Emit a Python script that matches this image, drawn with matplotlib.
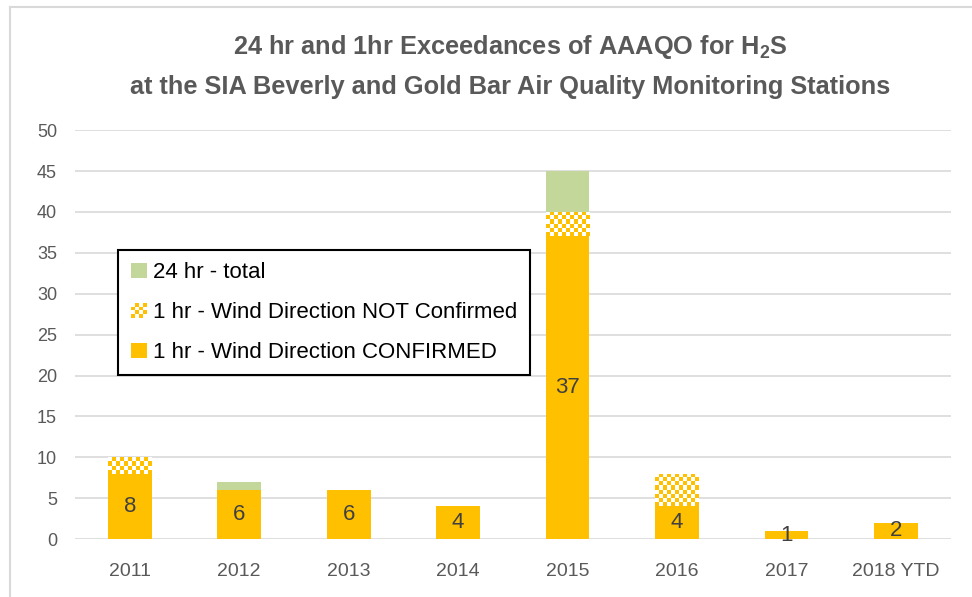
import numpy as np
import matplotlib.pyplot as plt
from matplotlib.patches import Rectangle
from matplotlib.legend_handler import HandlerBase
from matplotlib.lines import Line2D

# Дані з графіка
years = ['2011', '2012', '2013', '2014', '2015', '2016', '2017', '2018 YTD']
confirmed = [8, 6, 6, 4, 37, 4, 1, 2]
not_confirmed = [2, 0, 0, 0, 3, 4, 0, 0]
total_24hr = [0, 1, 0, 0, 5, 0, 0, 0]

orange = '#FFC000'
green = '#C4D79B'
grey = '#595959'

plt.rcParams['font.family'] = ['Liberation Sans', 'DejaVu Sans']


def checker(n_rows, n_cols):
    img = np.ones((n_rows, n_cols, 3))
    yy, xx = np.indices((n_rows, n_cols))
    mask = (yy + xx) % 2 == 0
    img[mask] = [1.0, 0.753, 0.0]
    return img


class CheckerHandler(HandlerBase):
    def create_artists(self, legend, orig_handle, xdescent, ydescent,
                       width, height, fontsize, trans):
        size = height * 1.0
        n = 4
        cell = size / n
        x0 = -xdescent + (width - size) / 2
        y0 = -ydescent + (height - size) / 2
        arts = []
        for i in range(n):
            for j in range(n):
                c = orange if (i + j) % 2 == 0 else 'white'
                r = Rectangle((x0 + j * cell, y0 + i * cell), cell, cell,
                              facecolor=c, edgecolor='none', transform=trans)
                arts.append(r)
        return arts


class SquareHandler(HandlerBase):
    def create_artists(self, legend, orig_handle, xdescent, ydescent,
                       width, height, fontsize, trans):
        size = height * 1.0
        x0 = -xdescent + (width - size) / 2
        y0 = -ydescent + (height - size) / 2
        r = Rectangle((x0, y0), size, size, facecolor=orig_handle.get_facecolor(),
                      edgecolor='none', transform=trans)
        return [r]


fig = plt.figure(figsize=(9.72, 5.97), dpi=100)
ax = fig.add_axes([0.0772, 0.097, 0.9008, 0.685])

x = np.arange(len(years))
w = 0.4
conf = np.array(confirmed)
notc = np.array(not_confirmed)
tot = np.array(total_24hr)

b1 = ax.bar(x, conf, w, color=orange, zorder=3)
b2 = ax.bar(x, notc, w, bottom=conf, color='none', zorder=3)
b3 = ax.bar(x, tot, w, bottom=conf + notc, color=green, zorder=3)

ax.set_xlim(-0.5, len(years) - 0.5)
ax.set_ylim(0, 50)

# шаховий візерунок для "NOT Confirmed"
fig.canvas.draw()
for p in b2.patches:
    if p.get_height() <= 0:
        continue
    bb = p.get_window_extent()
    nc = max(1, int(round(bb.width / 4.0)))
    nr = max(1, int(round(bb.height / 4.0)))
    xs, ys = p.get_x(), p.get_y()
    im = ax.imshow(checker(nr, nc), extent=(xs, xs + p.get_width(), ys, ys + p.get_height()),
                   aspect='auto', interpolation='nearest', origin='lower', zorder=3)
    im.set_clip_path(p)

ax.set_xlim(-0.5, len(years) - 0.5)
ax.set_ylim(0, 50)

for xi, v in zip(x, conf):
    ax.text(xi, v / 2, str(v), ha='center', va='center', fontsize=16, color='#404040', zorder=4)

ax.set_yticks(range(0, 51, 5))
ax.set_xticks(x)
ax.set_xticklabels(years)
ax.tick_params(axis='x', length=0, labelsize=14, labelcolor=grey, pad=17)
ax.tick_params(axis='y', length=0, labelsize=13, labelcolor=grey, pad=13)
ax.grid(axis='y', color='#D9D9D9', linewidth=1.2, zorder=0)
ax.set_axisbelow(True)
for s in ax.spines.values():
    s.set_visible(False)

fig.text(0.525, 0.921, r'24 hr and 1hr Exceedances of AAAQO for H$_{\mathregular{2}}$S',
         ha='center', va='center', fontsize=18.3, fontweight='bold', color=grey)
fig.text(0.525, 0.854, 'at the SIA Beverly and Gold Bar Air Quality Monitoring Stations',
         ha='center', va='center', fontsize=18.3, fontweight='bold', color=grey)

h_green = Rectangle((0, 0), 1, 1, facecolor=green)
h_check = Rectangle((0, 0), 1, 1, facecolor=orange)
h_orange = Rectangle((0, 0), 1, 1, facecolor=orange)
leg = ax.legend([h_green, h_check, h_orange],
                ['24 hr - total', '1 hr - Wind Direction NOT Confirmed', '1 hr - Wind Direction CONFIRMED'],
                handler_map={h_green: SquareHandler(), h_check: CheckerHandler(), h_orange: SquareHandler()},
                loc='upper left', bbox_to_anchor=(0.049, 0.7066), borderaxespad=0, fontsize=16,
                frameon=True, fancybox=False, edgecolor='black', framealpha=1,
                handlelength=0.8, handletextpad=0.25, labelspacing=0.85, borderpad=0.55)
leg.get_frame().set_linewidth(1.5)

# рамка діаграми
fig.add_artist(Line2D([10 / 972, 10 / 972], [0, 1 - 7 / 597], transform=fig.transFigure,
                      color='#D9D9D9', linewidth=1.5))
fig.add_artist(Line2D([10 / 972, 1], [1 - 7 / 597, 1 - 7 / 597], transform=fig.transFigure,
                      color='#D9D9D9', linewidth=1.5))

fig.savefig('out.png', dpi=100)
